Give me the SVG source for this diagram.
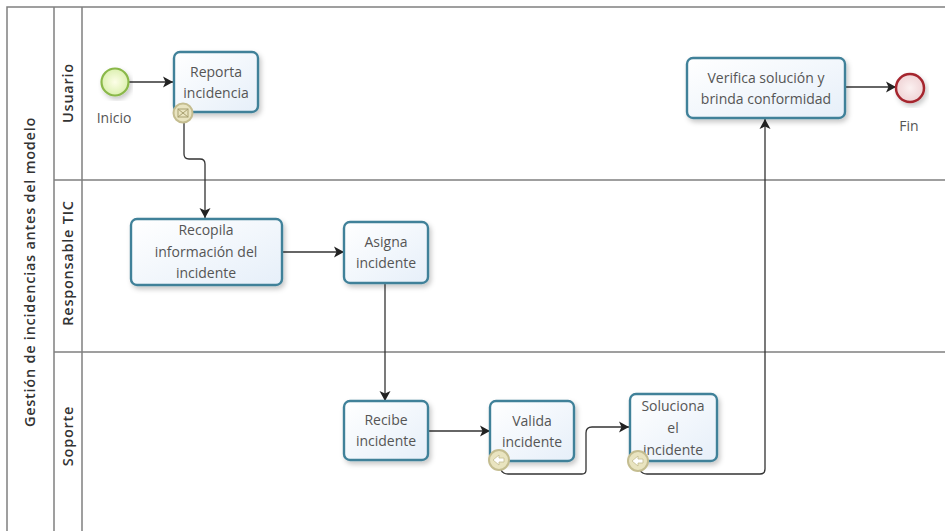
<svg xmlns="http://www.w3.org/2000/svg" width="945" height="531" viewBox="0 0 945 531">
<style>
text{font-family:"Open Sans","DejaVu Sans",sans-serif;fill:#555;font-size:14px;text-anchor:middle}
.lane{font-weight:600;fill:#333;font-size:14.500px;letter-spacing:0.75px}
.task{fill:url(#tg);stroke:#3f8199;stroke-width:2.400;filter:url(#sh)}
.pool{fill:none;stroke:#808080;stroke-width:1.500}
.conn{fill:none;stroke:#333;stroke-width:1.300;marker-end:url(#arr)}
.badge{fill:#e9e4c0;stroke:#c4bd90;stroke-width:2}
.ic{fill:none;stroke:#a8a070;stroke-width:1}
</style>
<defs>
<linearGradient id="tg" x1="0" y1="0" x2="1" y2="1"><stop offset="0" stop-color="#ffffff"/><stop offset="1" stop-color="#e6eff9"/></linearGradient>
<radialGradient id="sg"><stop offset="0" stop-color="#fdfee8"/><stop offset="1" stop-color="#dcf0b0"/></radialGradient>
<radialGradient id="eg"><stop offset="0" stop-color="#fbf0f0"/><stop offset="1" stop-color="#f0d4d6"/></radialGradient>
<filter id="sh" x="-10%" y="-10%" width="125%" height="130%"><feDropShadow dx="2" dy="3" stdDeviation="2.500" flood-color="#000" flood-opacity="0.22"/></filter>
<marker id="arr" markerUnits="userSpaceOnUse" markerWidth="12" markerHeight="12" refX="10" refY="6" orient="auto"><path d="M0,0.500 L10,6 L0,11.500 L2.500,6 Z" fill="#222"/></marker>
</defs>
<rect width="945" height="531" fill="#fff"/>
<g id="pool">
<path class="pool" d="M945,7 H7 V531 M54,7 V531 M82,7 V531 M54,180 H945 M54,352 H945"/>
<text class="lane" transform="translate(35,272) rotate(-90)">Gestión de incidencias antes del modelo</text>
<text class="lane" transform="translate(72.500,93) rotate(-90)">Usuario</text>
<text class="lane" transform="translate(72.500,263) rotate(-90)">Responsable TIC</text>
<text class="lane" transform="translate(72.500,436) rotate(-90)">Soporte</text>
</g>
<g id="connectors">
<path class="conn" d="M129,82 H173"/>
<path class="conn" d="M184,122 V154 Q184,159 189,159 H200 Q205,159 205,164 V218"/>
<path class="conn" d="M282,252 H344"/>
<path class="conn" d="M385,283 V401"/>
<path class="conn" d="M428,431 H490"/>
<path class="conn" d="M501,470 Q503,474 508,474 H582 Q586,474 586,470 V433 Q586,427 592,427 H629"/>
<path class="conn" d="M640,470 Q642,474 647,474 H760 Q765,474 765,469 V119"/>
<path class="conn" d="M846,87 H896"/>
</g>
<g id="start"><circle cx="115" cy="82" r="13.500" fill="url(#sg)" stroke="#8ab84a" stroke-width="2.200" filter="url(#sh)"/><text x="114" y="123">Inicio</text></g>
<g id="end"><circle cx="910" cy="88" r="14" fill="url(#eg)" stroke="#a5252f" stroke-width="2.500" filter="url(#sh)"/><text x="909" y="131">Fin</text></g>
<g id="t1"><rect class="task" x="174" y="52" width="84" height="60" rx="6"/><text x="216" y="77">Reporta</text><text x="216" y="98">incidencia</text></g>
<g id="t1b"><circle class="badge" cx="183" cy="113" r="9.500"/><rect class="ic" x="178" y="109" width="10" height="8"/><path class="ic" d="M178,109 L183,113 L188,109 M178,117 L183,113 L188,117"/></g>
<g id="t2"><rect class="task" x="131" y="219" width="151" height="66" rx="6"/><text x="206" y="235">Recopila</text><text x="206" y="257">información del</text><text x="206" y="278">incidente</text></g>
<g id="t3"><rect class="task" x="344" y="222" width="84" height="61" rx="6"/><text x="386" y="247">Asigna</text><text x="386" y="268">incidente</text></g>
<g id="t4"><rect class="task" x="344" y="401" width="84" height="59" rx="6"/><text x="386" y="425">Recibe</text><text x="386" y="446">incidente</text></g>
<g id="t5"><rect class="task" x="490" y="401" width="84" height="60" rx="6"/><text x="532" y="426">Valida</text><text x="532" y="447">incidente</text></g>
<g id="t5b"><circle class="badge" cx="499" cy="460" r="10"/><path d="M493,460 L499,455 V458 H504 V462 H499 V465 Z" fill="#fff" stroke="#c4bd90" stroke-width="0.800"/></g>
<g id="t6"><rect class="task" x="630" y="394" width="87" height="67" rx="6"/><text x="673" y="411">Soluciona</text><text x="673" y="433">el</text><text x="673" y="455">incidente</text></g>
<g id="t6b"><circle class="badge" cx="638" cy="461" r="10"/><path d="M632,461 L638,456 V459 H643 V463 H638 V466 Z" fill="#fff" stroke="#c4bd90" stroke-width="0.800"/></g>
<g id="t7"><rect class="task" x="687" y="58" width="158" height="60" rx="6"/><text x="766" y="83">Verifica solución y</text><text x="766" y="104">brinda conformidad</text></g>
</svg>
